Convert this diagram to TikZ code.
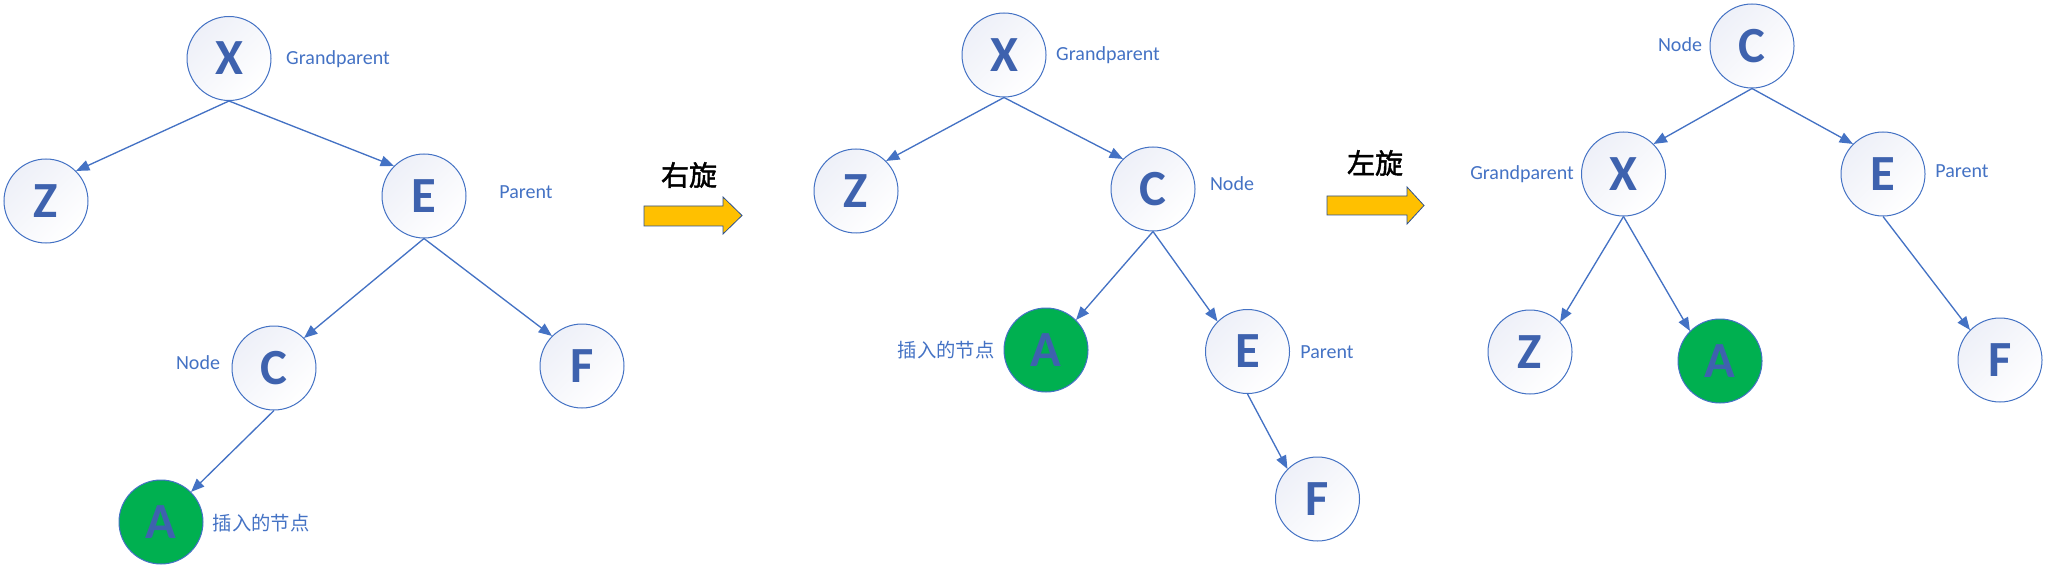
\documentclass[tikz,border=0pt]{standalone}
\usepackage{fontspec}
\setmainfont{Carlito}
\newfontfamily\cjk{Noto Sans CJK SC}
\newfontfamily\cjkb{Noto Sans CJK SC}[FakeBold=1.5]
\usetikzlibrary{arrows.meta}
\definecolor{edgeblue}{RGB}{68,114,196}
\definecolor{letterblue}{RGB}{62,98,174}
\definecolor{nodegreen}{RGB}{0,176,80}
\definecolor{shadetop}{RGB}{238,240,248}
\definecolor{arrowfill}{RGB}{255,192,0}
\definecolor{arrowline}{RGB}{47,82,143}
\tikzset{
  tnode/.style={circle, draw=edgeblue, line width=0.75pt, minimum size=63pt, inner sep=0pt,
    shading=axis, top color=shadetop, bottom color=white, shading angle=45,
    text=letterblue, font=\fontsize{38}{38}\selectfont\bfseries},
  gnode/.style={circle, draw=edgeblue, line width=0.75pt, minimum size=63pt, inner sep=0pt,
    fill=nodegreen, text=letterblue, font=\fontsize{38}{38}\selectfont\bfseries},
  lbl/.style={text=edgeblue, font=\fontsize{15}{15}\selectfont, inner sep=0pt},
  cjklbl/.style={text=edgeblue, font=\cjk\fontsize{14.5}{14.5}\selectfont, inner sep=0pt},
  rotlbl/.style={text=black, font=\cjkb\fontsize{21}{21}\selectfont, inner sep=0pt},
  edge/.style={draw=edgeblue, line width=1pt, -{Triangle[length=10pt, width=8pt]}},
  blockarrow/.style={fill=arrowfill, draw=arrowline, line width=0.6pt}
}
\begin{document}
\begin{tikzpicture}[x=0.75pt, y=-0.75pt]
\useasboundingbox (0,0) rectangle (2047,577);
% ---------- Tree 1 ----------
\node[tnode] (aX) at (229,58.5) {X};
\node[tnode] (aZ) at (46,201) {Z};
\node[tnode] (aE) at (424,196) {E};
\node[tnode] (aC) at (274,368) {C};
\node[tnode] (aF) at (582,366) {F};
\node[gnode] (aA) at (161,522) {A};
\node[lbl] (aXl) at (338,59) {Grandparent};
\node[lbl] (aEl) at (526,192) {Parent};
\node[lbl] (aCl) at (198,363) {Node};
\node[cjklbl] (aAl) at (261,523) {插入的节点};
\draw[edge] (aX.south) -- (aZ.north east);
\draw[edge] (aX.south) -- (aE.north west);
\draw[edge] (aE.south) -- (aC.north east);
\draw[edge] (aE.south) -- (aF.north west);
\draw[edge] (aC.south) -- (aA.north east);
% ---------- Arrow 1 ----------
\draw[blockarrow] (644,206) -- (723,206) -- (723,197) -- (742,215.5) -- (723,234) -- (723,226) -- (644,226) -- cycle;
\node[rotlbl] (r1) at (689,175) {右旋};
% ---------- Tree 2 ----------
\node[tnode] (bX) at (1004,55) {X};
\node[tnode] (bZ) at (856,191) {Z};
\node[tnode] (bC) at (1153,189) {C};
\node[gnode] (bA) at (1046,350) {A};
\node[tnode] (bE) at (1247.5,351.5) {E};
\node[tnode] (bF) at (1317.5,499) {F};
\node[lbl] (bXl) at (1108,55) {Grandparent};
\node[lbl] (bCl) at (1232,184) {Node};
\node[cjklbl] (bAl) at (946,350) {插入的节点};
\node[lbl] (bEl) at (1327,352) {Parent};
\draw[edge] (bX.south) -- (bZ.north east);
\draw[edge] (bX.south) -- (bC.north west);
\draw[edge] (bC.south) -- (bA.north east);
\draw[edge] (bC.south) -- (bE.north west);
\draw[edge] (bE.south) -- (bF.north west);
% ---------- Arrow 2 ----------
\draw[blockarrow] (1327,196) -- (1407,196) -- (1407,187) -- (1424,205.5) -- (1407,224) -- (1407,215) -- (1327,215) -- cycle;
\node[rotlbl] (r2) at (1375,163) {左旋};
% ---------- Tree 3 ----------
\node[tnode] (cC) at (1752,46) {C};
\node[tnode] (cX) at (1623.5,174) {X};
\node[tnode] (cE) at (1883,174) {E};
\node[tnode] (cZ) at (1530,352) {Z};
\node[gnode] (cA) at (1720,361) {A};
\node[tnode] (cF) at (2000,360) {F};
\node[lbl] (cCl) at (1680,45) {Node};
\node[lbl] (cXl) at (1522,174) {Grandparent};
\node[lbl] (cEl) at (1962,171) {Parent};
\draw[edge] (cC.south) -- (cX.north east);
\draw[edge] (cC.south) -- (cE.north west);
\draw[edge] (cX.south) -- (cZ.north east);
\draw[edge] (cX.south) -- (cA.north west);
\draw[edge] (cE.south) -- (cF.north west);
\end{tikzpicture}
\end{document}
